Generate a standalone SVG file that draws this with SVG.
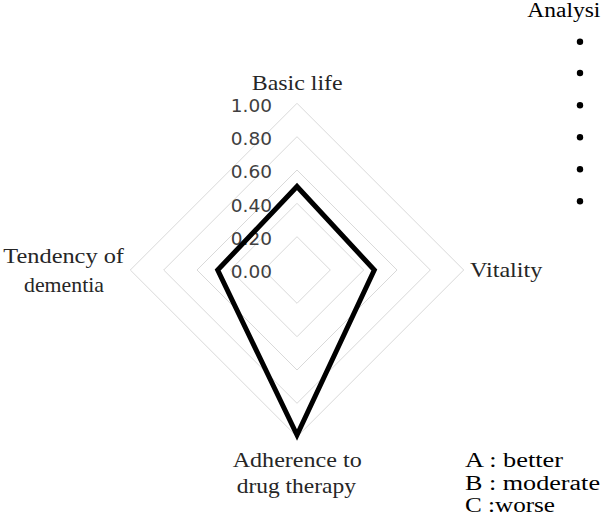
<svg xmlns="http://www.w3.org/2000/svg" width="602" height="532" viewBox="0 0 602 532">
<style>
.grid{fill:none;stroke:#d9d9d9;stroke-width:1}
.tick{font-size:18.5px;fill:#404040;text-anchor:end}
.lbl{font-size:21px;fill:#262626}
.leg{font-size:20px;fill:#000}
.data{fill:none;stroke:#000;stroke-width:5;stroke-linejoin:miter}
</style>
<rect width="602" height="532" fill="#fff"/>
<g id="grid">
<polygon class="grid" points="297,236.7 330.3,270 297,303.3 263.7,270"/>
<polygon class="grid" points="297,203.3 363.7,270 297,336.7 230.3,270"/>
<polygon class="grid" points="297,170 397,270 297,370 197,270"/>
<polygon class="grid" points="297,136.7 430.3,270 297,403.3 163.7,270"/>
<polygon class="grid" points="297,103.3 463.7,270 297,436.7 130.3,270"/>
</g>
<g id="ticks" font-family="DejaVu Sans, sans-serif">
<text class="tick" x="272" y="111.7">1.00</text>
<text class="tick" x="272" y="145">0.80</text>
<text class="tick" x="272" y="178.3">0.60</text>
<text class="tick" x="272" y="211.7">0.40</text>
<text class="tick" x="272" y="245">0.20</text>
<text class="tick" x="272" y="278.3">0.00</text>
</g>
<g id="series">
<polygon class="data" points="297,186.5 374.3,270 297,435 217.7,270"/>
</g>
<g font-family="Liberation Serif, Times New Roman, serif">
<g id="axis-basic-life">
<text class="lbl" x="251.7" y="90" textLength="91" lengthAdjust="spacingAndGlyphs">Basic life</text>
</g>
<g id="axis-vitality">
<text class="lbl" x="470" y="276.7" textLength="72.3" lengthAdjust="spacingAndGlyphs">Vitality</text>
</g>
<g id="axis-adherence">
<text class="lbl" x="232.7" y="466.7" textLength="129" lengthAdjust="spacingAndGlyphs">Adherence to</text>
<text class="lbl" x="236.7" y="493.3" textLength="119.3" lengthAdjust="spacingAndGlyphs">drug therapy</text>
</g>
<g id="axis-dementia">
<text class="lbl" x="3.3" y="263.3" textLength="120.7" lengthAdjust="spacingAndGlyphs">Tendency of</text>
<text class="lbl" x="24" y="291.7" textLength="80" lengthAdjust="spacingAndGlyphs">dementia</text>
</g>
<g id="analysis">
<text class="leg" x="527.3" y="17.3" textLength="73" lengthAdjust="spacingAndGlyphs">Analysi</text>
<circle cx="580" cy="41.7" r="3.2"/>
<circle cx="580" cy="73" r="3.2"/>
<circle cx="580" cy="105.3" r="3.2"/>
<circle cx="580" cy="137.3" r="3.2"/>
<circle cx="580" cy="169.3" r="3.2"/>
<circle cx="580" cy="201.3" r="3.2"/>
</g>
<g id="legend">
<text class="leg" x="465" y="466.7" textLength="98" lengthAdjust="spacingAndGlyphs">A : better</text>
<text class="leg" x="465" y="489.5" textLength="135" lengthAdjust="spacingAndGlyphs">B : moderate</text>
<text class="leg" x="465" y="511.7" textLength="90" lengthAdjust="spacingAndGlyphs">C :worse</text>
</g>
</g>
</svg>
